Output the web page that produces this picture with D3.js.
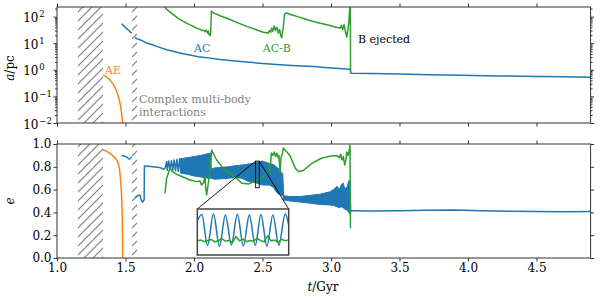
<!DOCTYPE html>
<html>
<head>
<meta charset="utf-8">
<script src="https://cdn.jsdelivr.net/npm/d3@7"></script>
<style>
body { margin: 0; background: #fff; }
text { font-family: "DejaVu Serif", serif; }
</style>
</head>
<body>
<script>
// ---- data ----
var xTicks = [1.0, 1.5, 2.0, 2.5, 3.0, 3.5, 4.0, 4.5];
var eTicks = [0.0, 0.2, 0.4, 0.6, 0.8, 1.0];
var aTicks = [0.01, 0.1, 1, 10, 100];
var aTickExp = ["\u22122", "\u22121", "0", "1", "2"];
var hatchBands = [[1.153, 1.336], [1.547, 1.584]];

// top panel: semi-major axis a / pc
var aeT = [1.336, 1.36, 1.387, 1.41, 1.423, 1.437, 1.447, 1.457, 1.465, 1.474, 1.480, 1.482];
var aeA = [0.65, 0.55, 0.42, 0.29, 0.22, 0.15, 0.10, 0.065, 0.041, 0.017, 0.010, 0.006];

var acAT1 = [1.472, 1.49, 1.51, 1.53, 1.545];
var acA1 = [54, 44, 35, 28, 24];
var acAT2 = [1.569, 1.585, 1.606, 1.625, 1.642, 1.648, 1.655, 1.69, 1.728, 1.76, 1.80, 1.86, 1.92, 1.98, 2.044, 2.117, 2.19, 2.263, 2.385, 2.50, 2.628, 2.75, 2.871, 3.00, 3.139, 3.146, 3.30, 3.50, 3.72, 3.95, 4.21, 4.50, 4.70, 4.895];
var acA2 = [16, 14.8, 13.5, 12.2, 11.0, 10.4, 10.2, 9.0, 7.6, 6.7, 5.7, 4.8, 4.0, 3.5, 3.0, 2.75, 2.45, 2.24, 1.95, 1.74, 1.55, 1.42, 1.33, 1.18, 1.06, 0.75, 0.72, 0.69, 0.65, 0.62, 0.59, 0.56, 0.545, 0.53];

var acbAT = [1.780, 1.788, 1.80, 1.82, 1.849, 1.88, 1.922, 1.96, 1.995, 2.02, 2.044, 2.06, 2.07, 2.08, 2.09, 2.10, 2.105, 2.11, 2.117, 2.122, 2.127, 2.134, 2.141, 2.20, 2.263, 2.32, 2.385, 2.45, 2.506, 2.542, 2.55, 2.56, 2.567, 2.575, 2.585, 2.595, 2.605, 2.615, 2.625, 2.632, 2.64, 2.645, 2.652, 2.66, 2.672, 2.71, 2.75, 2.81, 2.871, 2.93, 2.993, 3.03, 3.066, 3.075, 3.085, 3.095, 3.105, 3.115, 3.122, 3.13, 3.137, 3.141, 3.143];
var acbA = [300, 230, 190, 155, 119, 90, 66, 52, 43, 37, 33, 30, 31, 27, 31, 24, 29, 21, 19, 25, 158, 148, 138, 103, 78, 58, 43, 33, 26, 24, 30, 26, 37, 28, 45, 30, 40, 24, 33, 20, 16, 26, 40, 120, 137, 118, 102, 82, 66, 55, 46, 41, 37, 46, 33, 50, 28, 17, 30, 60, 195, 300, 0.75];

// bottom panel: eccentricity e
var aeET = [1.336, 1.36, 1.387, 1.41, 1.436, 1.447, 1.455, 1.460, 1.466, 1.472, 1.476, 1.478, 1.480];
var aeE = [0.950, 0.937, 0.918, 0.895, 0.86, 0.83, 0.79, 0.74, 0.66, 0.54, 0.38, 0.245, 0.0];

var acET1 = [1.472, 1.49, 1.51, 1.525, 1.535, 1.545];
var acE1 = [0.90, 0.895, 0.885, 0.868, 0.872, 0.885];
var acET2 = [1.569, 1.582, 1.594, 1.606, 1.612, 1.618, 1.625, 1.63, 1.636, 1.638, 1.66, 1.70, 1.74, 1.76, 1.776, 1.79, 1.80, 1.805, 1.815, 1.825, 1.835, 1.845, 1.855, 1.865, 1.875, 1.885, 1.895, 1.905];
var acE2 = [0.53, 0.54, 0.55, 0.55, 0.52, 0.50, 0.49, 0.50, 0.51, 0.807, 0.805, 0.80, 0.795, 0.79, 0.778, 0.79, 0.845, 0.77, 0.85, 0.775, 0.855, 0.77, 0.86, 0.765, 0.865, 0.76, 0.87, 0.755];
// fast oscillation drawn as an envelope band
var acBandT = [1.90, 1.95, 2.00, 2.05, 2.10, 2.124, 2.126, 2.15, 2.20, 2.25, 2.30, 2.35, 2.40, 2.45, 2.50, 2.55, 2.58, 2.60, 2.62, 2.64, 2.648, 2.655, 2.70, 2.78, 2.85, 2.92, 2.99, 3.02, 3.044, 3.06, 3.075, 3.088, 3.10, 3.117, 3.13, 3.14, 3.145];
var acBandHi = [0.87, 0.88, 0.89, 0.90, 0.915, 0.92, 0.78, 0.79, 0.795, 0.80, 0.81, 0.815, 0.825, 0.835, 0.85, 0.83, 0.82, 0.80, 0.78, 0.75, 0.74, 0.545, 0.54, 0.54, 0.55, 0.56, 0.58, 0.60, 0.63, 0.60, 0.64, 0.66, 0.61, 0.62, 0.68, 0.66, 0.42];
var acBandLo = [0.745, 0.735, 0.72, 0.71, 0.70, 0.70, 0.70, 0.69, 0.695, 0.70, 0.705, 0.70, 0.67, 0.66, 0.64, 0.64, 0.62, 0.58, 0.56, 0.55, 0.55, 0.51, 0.50, 0.49, 0.48, 0.47, 0.465, 0.46, 0.45, 0.44, 0.45, 0.44, 0.43, 0.42, 0.40, 0.38, 0.41];
var acET3 = [3.145, 3.30, 3.50, 3.70, 3.90, 4.10, 4.30, 4.50, 4.70, 4.895];
var acE3 = [0.415, 0.412, 0.415, 0.418, 0.42, 0.415, 0.41, 0.408, 0.405, 0.407];

var acbET = [1.788, 1.80, 1.825, 1.84, 1.88, 1.92, 1.97, 2.02, 2.044, 2.055, 2.07, 2.08, 2.085, 2.092, 2.10, 2.11, 2.117, 2.129, 2.165, 2.214, 2.263, 2.31, 2.35, 2.40, 2.44, 2.46, 2.50, 2.54, 2.555, 2.565, 2.575, 2.585, 2.595, 2.605, 2.615, 2.62, 2.628, 2.635, 2.645, 2.652, 2.70, 2.74, 2.765, 2.80, 2.86, 2.93, 3.00, 3.04, 3.06, 3.07, 3.08, 3.09, 3.10, 3.11, 3.115, 3.125, 3.135, 3.139, 3.142];
var acbE = [0.567, 0.70, 0.79, 0.76, 0.73, 0.71, 0.684, 0.67, 0.675, 0.64, 0.66, 0.728, 0.62, 0.553, 0.62, 0.70, 0.80, 0.947, 0.86, 0.786, 0.743, 0.70, 0.655, 0.65, 0.67, 0.685, 0.71, 0.757, 0.77, 0.92, 0.90, 0.93, 0.89, 0.92, 0.88, 0.90, 0.745, 0.88, 0.91, 0.965, 0.90, 0.786, 0.757, 0.77, 0.83, 0.875, 0.895, 0.90, 0.88, 0.91, 0.86, 0.89, 0.816, 0.87, 0.93, 0.90, 0.96, 0.99, 0.26];

// inset (zoom of the boxed region)
var insetT = [2.450, 2.476];
var insetE = [0.616, 0.85];
var insetBlueT = [2.4500, 2.4513, 2.4529, 2.4546, 2.4563, 2.4580, 2.4597, 2.4614, 2.4631, 2.4648, 2.4665, 2.4681, 2.4698, 2.4715, 2.4732, 2.4750, 2.4760];
var insetBlueE = [0.79, 0.822, 0.664, 0.825, 0.660, 0.820, 0.667, 0.823, 0.662, 0.819, 0.665, 0.822, 0.661, 0.820, 0.666, 0.825, 0.77];
var insetGreenT = [2.450, 2.451, 2.452, 2.453, 2.454, 2.455, 2.456, 2.457, 2.458, 2.459, 2.460, 2.461, 2.462, 2.463, 2.464, 2.465, 2.466, 2.467, 2.468, 2.469, 2.470, 2.471, 2.472, 2.473, 2.474, 2.475, 2.476];
var insetGreenE = [0.688, 0.692, 0.684, 0.690, 0.695, 0.683, 0.689, 0.700, 0.686, 0.691, 0.680, 0.710, 0.688, 0.697, 0.684, 0.690, 0.686, 0.702, 0.689, 0.683, 0.712, 0.688, 0.692, 0.681, 0.696, 0.689, 0.693];

// ---- layout ----
var width = 600, height = 300;
var L = 57, R = 590.6;
var topY0 = 7, topY1 = 123, botY0 = 144, botY1 = 258;
var blue = "#1f77b4", orange = "#ff7f0e", green = "#2ca02c", axisCol = "#333";

var x = d3.scaleLinear().domain([1.0, 4.895]).range([L, R]);
var yA = d3.scaleLog().domain([0.01, 230]).range([topY1, topY0]);
var yE = d3.scaleLinear().domain([0, 1]).range([botY1, botY0]);
var xi = d3.scaleLinear().domain(insetT).range([197.3, 288.7]);
var yi = d3.scaleLinear().domain(insetE).range([255, 209]);

var svg = d3.select("body").append("svg")
    .attr("width", width)
    .attr("height", height);

var defs = svg.append("defs");
defs.append("clipPath").attr("id", "clipTop").append("rect")
    .attr("x", L).attr("y", topY0).attr("width", R - L).attr("height", topY1 - topY0);
defs.append("clipPath").attr("id", "clipBot").append("rect")
    .attr("x", L).attr("y", botY0).attr("width", R - L).attr("height", botY1 - botY0);
defs.append("clipPath").attr("id", "clipIn").append("rect")
    .attr("x", xi.range()[0]).attr("y", yi.range()[1])
    .attr("width", xi.range()[1] - xi.range()[0]).attr("height", yi.range()[0] - yi.range()[1]);
var pat = defs.append("pattern").attr("id", "hatch")
    .attr("patternUnits", "userSpaceOnUse").attr("width", 9).attr("height", 9);
pat.append("path").attr("d", "M-1,1 l2,-2 M0,9 l9,-9 M8,10 l2,-2")
    .attr("stroke", "#808080").attr("stroke-width", 1.2);

var lineA = d3.line().x(function(d) { return x(d[0]); }).y(function(d) { return yA(d[1]); });
var lineE = d3.line().x(function(d) { return x(d[0]); }).y(function(d) { return yE(d[1]); });

function drawLine(g, gen, t, v, col, w) {
    g.append("path").datum(d3.zip(t, v))
        .attr("d", gen).attr("fill", "none")
        .attr("stroke", col).attr("stroke-width", w || 1.5)
        .attr("stroke-linejoin", "round");
}

// ---- top panel ----
var gTop = svg.append("g").attr("clip-path", "url(#clipTop)");
gTop.selectAll("rect.hatch").data(hatchBands).enter().append("rect")
    .attr("x", function(d) { return x(d[0]); })
    .attr("width", function(d) { return x(d[1]) - x(d[0]); })
    .attr("y", topY0).attr("height", topY1 - topY0)
    .attr("fill", "url(#hatch)");
drawLine(gTop, lineA, aeT, aeA, orange);
drawLine(gTop, lineA, acAT1, acA1, blue);
drawLine(gTop, lineA, acAT2, acA2, blue);
drawLine(gTop, lineA, acbAT, acbA, green);

// ---- bottom panel ----
var gBot = svg.append("g").attr("clip-path", "url(#clipBot)");
gBot.selectAll("rect.hatch").data(hatchBands).enter().append("rect")
    .attr("x", function(d) { return x(d[0]); })
    .attr("width", function(d) { return x(d[1]) - x(d[0]); })
    .attr("y", botY0).attr("height", botY1 - botY0)
    .attr("fill", "url(#hatch)");
drawLine(gBot, lineE, aeET, aeE, orange);
drawLine(gBot, lineE, acET1, acE1, blue);
drawLine(gBot, lineE, acET2, acE2, blue);
var band = d3.area()
    .x(function(d) { return x(d[0]); })
    .y0(function(d) { return yE(d[2]); })
    .y1(function(d) { return yE(d[1]); });
gBot.append("path").datum(d3.zip(acBandT, acBandHi, acBandLo))
    .attr("d", band).attr("fill", blue)
    .attr("stroke", blue).attr("stroke-width", 1);
drawLine(gBot, lineE, acET3, acE3, blue);
drawLine(gBot, lineE, acbET, acbE, green);

// zoom box + connectors
svg.append("rect")
    .attr("x", x(insetT[0])).attr("y", yE(insetE[1]))
    .attr("width", x(insetT[1]) - x(insetT[0]))
    .attr("height", yE(insetE[0]) - yE(insetE[1]))
    .attr("fill", "none").attr("stroke", "#000").attr("stroke-width", 0.9);
svg.append("line")
    .attr("x1", x(insetT[0])).attr("y1", yE(insetE[1]))
    .attr("x2", xi(insetT[0])).attr("y2", yi(insetE[1]))
    .attr("stroke", "#000").attr("stroke-width", 0.9);
svg.append("line")
    .attr("x1", x(insetT[1])).attr("y1", yE(insetE[1]))
    .attr("x2", xi(insetT[1])).attr("y2", yi(insetE[1]))
    .attr("stroke", "#000").attr("stroke-width", 0.9);

// inset
svg.append("rect")
    .attr("x", xi.range()[0]).attr("y", yi.range()[1])
    .attr("width", xi.range()[1] - xi.range()[0]).attr("height", yi.range()[0] - yi.range()[1])
    .attr("fill", "#fff");
var gIn = svg.append("g").attr("clip-path", "url(#clipIn)");
var lineIn = d3.line().x(function(d) { return xi(d[0]); }).y(function(d) { return yi(d[1]); });
gIn.append("path").datum(d3.zip(insetBlueT, insetBlueE))
    .attr("d", lineIn.curve(d3.curveMonotoneX)).attr("fill", "none")
    .attr("stroke", blue).attr("stroke-width", 1.5);
gIn.append("path").datum(d3.zip(insetGreenT, insetGreenE))
    .attr("d", d3.line().x(function(d) { return xi(d[0]); }).y(function(d) { return yi(d[1]); }))
    .attr("fill", "none").attr("stroke", green).attr("stroke-width", 1.5);
svg.append("rect")
    .attr("x", xi.range()[0]).attr("y", yi.range()[1])
    .attr("width", xi.range()[1] - xi.range()[0]).attr("height", yi.range()[0] - yi.range()[1])
    .attr("fill", "none").attr("stroke", "#444").attr("stroke-width", 1.5);

// ---- axes ----
function styleAxis(g) {
    g.select(".domain").remove();
    g.selectAll(".tick line").attr("stroke", axisCol);
    g.selectAll("text").attr("font-family", "DejaVu Serif").attr("font-size", 12).attr("fill", "#000");
}
var minorA = [];
[0.01, 0.1, 1, 10, 100].forEach(function(p) {
    [2, 3, 4, 5, 6, 7, 8, 9].forEach(function(m) { if (p * m <= 230) minorA.push(p * m); });
});

svg.append("g").attr("transform", "translate(0," + topY0 + ")")
    .call(d3.axisTop(x).tickValues(xTicks).tickSize(3.5).tickFormat("")).call(styleAxis);
svg.append("g").attr("transform", "translate(0," + topY1 + ")")
    .call(d3.axisBottom(x).tickValues(xTicks).tickSize(3.5).tickFormat("")).call(styleAxis);
svg.append("g").attr("transform", "translate(0," + botY0 + ")")
    .call(d3.axisTop(x).tickValues(xTicks).tickSize(3.5).tickFormat("")).call(styleAxis);
svg.append("g").attr("transform", "translate(0," + botY1 + ")")
    .call(d3.axisBottom(x).tickValues(xTicks).tickSize(3.5).tickPadding(2).tickFormat(d3.format(".1f"))).call(styleAxis);

svg.append("g").attr("transform", "translate(" + L + ",0)")
    .call(d3.axisLeft(yE).tickValues(eTicks).tickSize(3.5).tickPadding(2).tickFormat(d3.format(".1f"))).call(styleAxis);
svg.append("g").attr("transform", "translate(" + R + ",0)")
    .call(d3.axisRight(yE).tickValues(eTicks).tickSize(3.5).tickFormat("")).call(styleAxis);

svg.append("g").attr("transform", "translate(" + L + ",0)")
    .call(d3.axisLeft(yA).tickValues(aTicks).tickSize(3.5).tickFormat("")).call(styleAxis);
svg.append("g").attr("transform", "translate(" + L + ",0)")
    .call(d3.axisLeft(yA).tickValues(minorA).tickSize(2).tickFormat("")).call(styleAxis);
svg.append("g").attr("transform", "translate(" + R + ",0)")
    .call(d3.axisRight(yA).tickValues(aTicks).tickSize(3.5).tickFormat("")).call(styleAxis);
svg.append("g").attr("transform", "translate(" + R + ",0)")
    .call(d3.axisRight(yA).tickValues(minorA).tickSize(2).tickFormat("")).call(styleAxis);

var logLab = svg.append("g").selectAll("g").data(aTicks).enter().append("g");
logLab.append("text")
    .attr("x", 38.5).attr("y", function(d) { return yA(d) + 5.5; })
    .attr("text-anchor", "end").attr("font-size", 12).text("10");
logLab.append("text")
    .attr("x", 39.3).attr("y", function(d) { return yA(d) + 0.5; })
    .attr("font-size", 8.5)
    .text(function(d, i) { return aTickExp[i]; });

// frames
[[topY0, topY1], [botY0, botY1]].forEach(function(p) {
    svg.append("rect").attr("x", L).attr("y", p[0])
        .attr("width", R - L).attr("height", p[1] - p[0])
        .attr("fill", "none").attr("stroke", axisCol).attr("stroke-width", 1);
});

// axis labels
var yl1 = svg.append("text").attr("transform", "translate(14,68) rotate(-90)")
    .attr("text-anchor", "middle").attr("font-size", 12);
yl1.append("tspan").attr("font-style", "italic").text("a");
yl1.append("tspan").text("/pc");
svg.append("text").attr("transform", "translate(14,201) rotate(-90)")
    .attr("text-anchor", "middle").attr("font-size", 12).attr("font-style", "italic").text("e");
var xl = svg.append("text").attr("x", 323).attr("y", 291)
    .attr("text-anchor", "middle").attr("font-size", 12);
xl.append("tspan").attr("font-style", "italic").text("t");
xl.append("tspan").text("/Gyr");

// annotations
function note(tx, ty, s, col) {
    svg.append("text").attr("x", tx).attr("y", ty).attr("font-size", 11).attr("fill", col).text(s);
}
note(105, 74, "AE", orange);
note(194, 52, "AC", blue);
note(262.7, 52, "AC-B", green);
note(358, 43, "B ejected", "#000");
note(139, 103, "Complex multi-body", "#7f7f7f");
note(139, 116, "interactions", "#7f7f7f");
</script>
</body>
</html>
